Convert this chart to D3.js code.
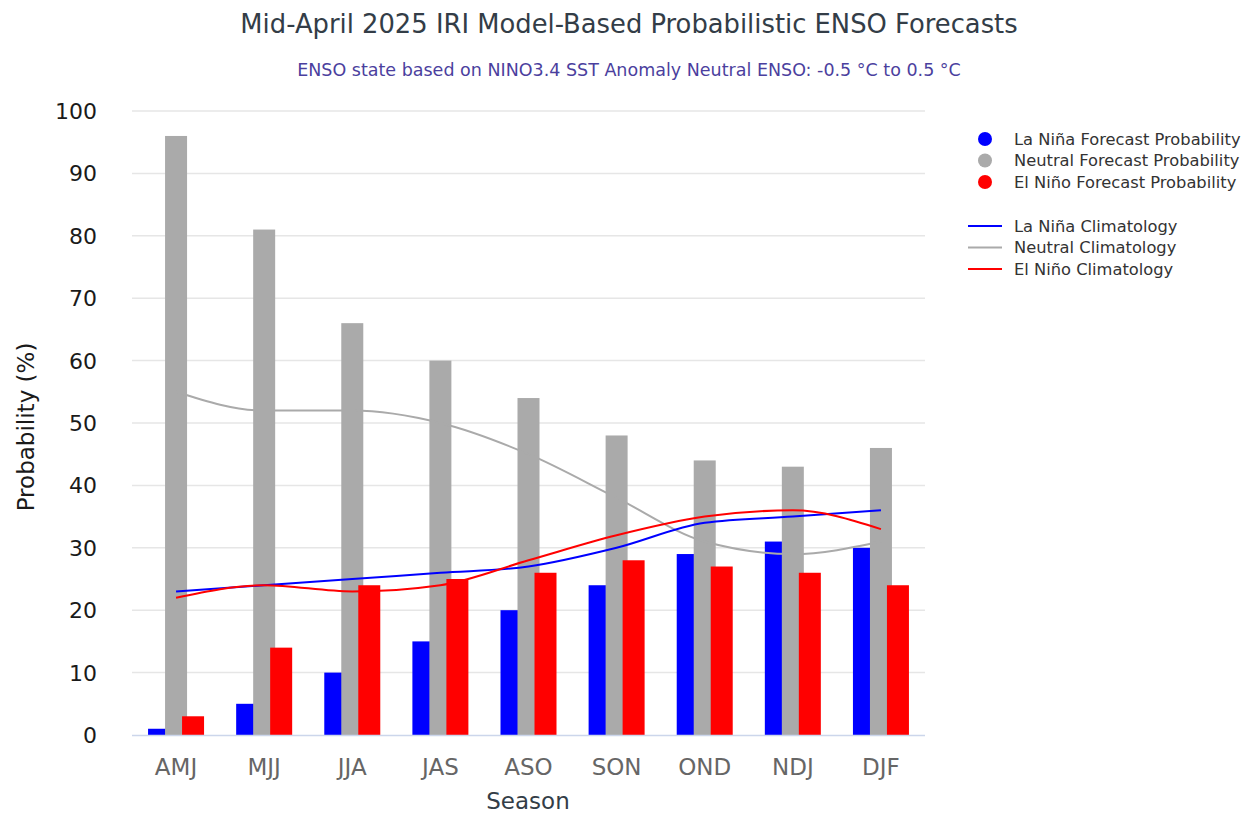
<!DOCTYPE html>
<html><head><meta charset="utf-8">
<script src="https://cdn.jsdelivr.net/npm/d3@7"></script>
<style>body{margin:0;background:#fff}svg{display:block}text{font-family:"DejaVu Sans",sans-serif}</style>
</head><body><svg id="c" width="1243" height="816"></svg>
<script>
const seasons = ["AMJ","MJJ","JJA","JAS","ASO","SON","OND","NDJ","DJF"];
const laNina  = [1,5,10,15,20,24,29,31,30];
const neutral = [96,81,66,60,54,48,44,43,46];
const elNino  = [3,14,24,25,26,28,27,26,24];
const climLaNina  = [23,24,25,26,27,30,34,35,36];
const climNeutral = [55,52,52,50,45,38,31,29,31];
const climElNino  = [22,24,23,24,28,32,35,36,33];
const yTicks = [0,10,20,30,40,50,60,70,80,90,100];
const barSeries = [
  {name:"La Niña Forecast Probability", values:laNina, color:"#0000ff", off:-17},
  {name:"Neutral Forecast Probability", values:neutral, color:"#aaaaaa", off:0},
  {name:"El Niño Forecast Probability", values:elNino, color:"#ff0000", off:17}
];
const lineSeries = [
  {name:"La Niña Climatology", values:climLaNina, color:"#0000ff", w:2},
  {name:"Neutral Climatology", values:climNeutral, color:"#aaaaaa", w:2},
  {name:"El Niño Climatology", values:climElNino, color:"#ff0000", w:2}
];
const svg = d3.select("#c");
const L=132, R=925, T=111, B=735;
const x = d3.scaleBand().domain(seasons).range([L,R]);
const y = d3.scaleLinear().domain([0,100]).range([B,T]);

// grid
svg.append("g").selectAll("line").data(yTicks.filter(d=>d>0)).join("line")
  .attr("x1",L).attr("x2",R).attr("y1",d=>y(d)).attr("y2",d=>y(d))
  .attr("stroke","#e6e6e6").attr("stroke-width",1.5);
// y labels
svg.append("g").selectAll("text").data(yTicks).join("text")
  .attr("x",97).attr("y",d=>y(d)).attr("dy","0.36em").attr("text-anchor","end")
  .attr("font-size",22).attr("fill","#1a1a1a").text(d=>d);
// bars
const bw=22;
barSeries.forEach(s=>{
  svg.append("g").selectAll("rect").data(seasons).join("rect")
    .attr("x",(d)=>x(d)+x.bandwidth()/2+s.off-bw/2)
    .attr("width",bw)
    .attr("y",(d,i)=>y(s.values[i]))
    .attr("height",(d,i)=>y(0)-y(s.values[i]))
    .attr("fill",s.color);
});
// axis line
svg.append("line").attr("x1",L).attr("x2",R).attr("y1",B+0.5).attr("y2",B+0.5)
  .attr("stroke","#ccd6eb").attr("stroke-width",1.5);
// lines
const line = d3.line().x((d,i)=>x(seasons[i])+x.bandwidth()/2).y(d=>y(d)).curve(d3.curveMonotoneX);
[lineSeries[1],lineSeries[0],lineSeries[2]].forEach(s=>{
  svg.append("path").attr("d",line(s.values)).attr("fill","none")
    .attr("stroke",s.color).attr("stroke-width",s.w);
});
// x labels
svg.append("g").selectAll("text").data(seasons).join("text")
  .attr("x",d=>x(d)+x.bandwidth()/2).attr("y",775).attr("text-anchor","middle")
  .attr("font-size",23).attr("fill","#666").text(d=>d);
svg.append("text").attr("x",528).attr("y",809).attr("text-anchor","middle")
  .attr("font-size",23).attr("fill","#333d47").text("Season");
svg.append("text").attr("transform","translate(34,427) rotate(-90)").attr("text-anchor","middle")
  .attr("font-size",23).attr("fill","#1a1a1a").text("Probability (%)");
// titles
svg.append("text").attr("x",629).attr("y",33).attr("text-anchor","middle")
  .attr("font-size",25.8).attr("fill","#333d47").text("Mid-April 2025 IRI Model-Based Probabilistic ENSO Forecasts");
svg.append("text").attr("x",629).attr("y",76).attr("text-anchor","middle")
  .attr("font-size",17.5).attr("fill","#4b3f9e").text("ENSO state based on NINO3.4 SST Anomaly Neutral ENSO: -0.5 °C to 0.5 °C");
// legend
const lg = svg.append("g");
barSeries.forEach((s,i)=>{
  const yy=139+i*21.5;
  lg.append("circle").attr("cx",985).attr("cy",yy).attr("r",7).attr("fill",s.color);
  lg.append("text").attr("x",1014).attr("y",yy).attr("dy","0.36em").attr("font-size",16.3).attr("fill","#333").text(s.name);
});
lineSeries.forEach((s,i)=>{
  const yy=226+i*21.5;
  lg.append("line").attr("x1",968).attr("x2",1002).attr("y1",yy).attr("y2",yy).attr("stroke",s.color).attr("stroke-width",2);
  lg.append("text").attr("x",1014).attr("y",yy).attr("dy","0.36em").attr("font-size",16.3).attr("fill","#333").text(s.name);
});
</script></body></html>
